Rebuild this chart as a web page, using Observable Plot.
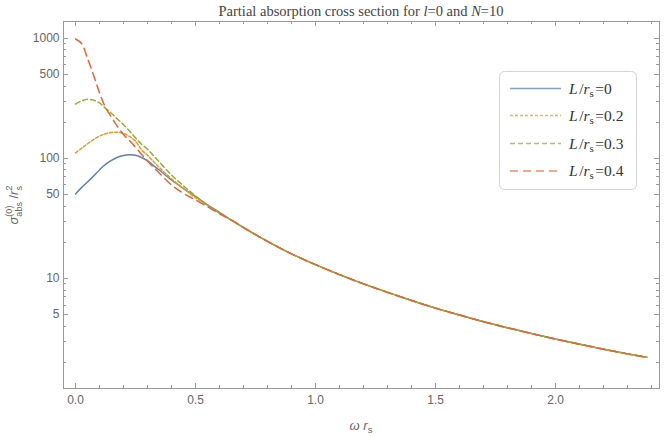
<!DOCTYPE html>
<html><head><meta charset="utf-8">
<script src="https://cdn.jsdelivr.net/npm/d3@7"></script>
<script src="https://cdn.jsdelivr.net/npm/@observablehq/plot@0.6"></script>
<style>body{margin:0;background:#fff}#chart{width:664px;height:436px}</style>
</head><body><div id="chart"></div>
<script>
// ---- data ----
const omegaFront = [0, 0.025, 0.05, 0.075, 0.1, 0.125, 0.15, 0.175, 0.2, 0.225, 0.25, 0.275, 0.3, 0.325, 0.35, 0.4, 0.45, 0.5, 0.55, 0.6];
const sigmaL0   = [50.5, 57, 63.5, 71, 80, 89, 96, 102, 105.5, 107, 106, 101.5, 95, 87, 79.5, 66, 56, 48, 41, 35.5];
const sigmaL02  = [111, 121, 132, 143, 153, 160, 164, 165, 161, 152, 139, 118, 106, 94, 83.5, 67.5, 56, 47, 40.5, 35];
const sigmaL03  = [283, 300, 310, 305, 289, 261, 236, 212, 190, 169, 148, 131, 119, 105, 93, 72.5, 59, 48.5, 40.5, 35];
const sigmaL04  = [985, 905, 680, 495, 352, 265, 220, 184, 158, 140, 124, 108, 95, 84, 75, 60, 51, 45, 39.5, 34.5];
const omegaTail = [0.65, 0.7, 0.8, 0.9, 1.0, 1.1, 1.2, 1.3, 1.4, 1.5, 1.6, 1.7, 1.8, 1.9, 2.0, 2.1, 2.2, 2.3, 2.38];
const sigmaTail = [30.5, 26.5, 20.3, 16.0, 13.0, 10.75, 9.0, 7.65, 6.55, 5.65, 4.95, 4.36, 3.88, 3.47, 3.12, 2.83, 2.57, 2.35, 2.2];

const legendValues = ["0", "0.2", "0.3", "0.4"];
const seriesColors = ["#5E81B5", "#E19C24", "#8FB032", "#EB6235"];
const seriesDashes = [null, "3,2", "5,3", "8,5"];

const xTickLabels = [0, 0.5, 1, 1.5, 2];
const xMinorTicks = [0.1, 0.2, 0.3, 0.4, 0.6, 0.7, 0.8, 0.9, 1.1, 1.2, 1.3, 1.4, 1.6, 1.7, 1.8, 1.9, 2.1, 2.2, 2.3, 2.4];
const yTickLabels = [5, 10, 50, 100, 500, 1000];
const yMinorTicks = [2, 3, 4, 6, 7, 8, 9, 20, 30, 40, 60, 70, 80, 90, 200, 300, 400, 600, 700, 800, 900];

(function () {
// ---- layout ----
const W = 664, H = 436, mL = 63, mR = 5, mT = 21, mB = 48;
const innerW = W - mL - mR, innerH = H - mT - mB;

// ---- build tables ----
const fronts = [sigmaL0, sigmaL02, sigmaL03, sigmaL04];
const series = fronts.map((front) =>
  omegaFront.map((w, i) => ({w, v: front[i]}))
    .concat(omegaTail.map((w, i) => ({w, v: sigmaTail[i]})))
);

const frameColor = "#999";

const plot = Plot.plot({
  width: W, height: H,
  marginLeft: mL, marginRight: mR, marginTop: mT, marginBottom: mB,
  style: {fontFamily: "'Liberation Sans', Arial, sans-serif", fontSize: "12px", background: "#fff", overflow: "visible"},
  x: {domain: [-0.05, 2.433], axis: null},
  y: {type: "log", domain: [1.21, 1378], axis: null},
  marks: [
    ...series.map((d, k) => Plot.line(d, {
      x: "w", y: "v", stroke: seriesColors[k], strokeWidth: 1.5,
      strokeDasharray: seriesDashes[k] || undefined, curve: "catmull-rom"
    })),
    Plot.frame({stroke: frameColor}),
    Plot.text(xTickLabels, {x: d => d, text: d => d.toFixed(1), frameAnchor: "bottom", lineAnchor: "top", dy: 7, fill: "#666", fontSize: 12}),
    Plot.text(yTickLabels, {y: d => d, text: d => String(d), frameAnchor: "left", textAnchor: "end", dx: -4, fill: "#666", fontSize: 12})
  ]
});
document.getElementById("chart").appendChild(plot);

// ---- inward frame ticks, positioned through Plot's own scales ----
const svg = d3.select(plot);
const sx = plot.scale("x"), sy = plot.scale("y");
const xLeft = mL, xRight = W - mR, yTop = mT, yBottom = H - mB;
const tg = svg.append("g").attr("stroke", frameColor).attr("stroke-width", 1).attr("fill", "none");
for (const [vals, len] of [[xTickLabels, 5], [xMinorTicks, 3]]) {
  for (const v of vals) {
    const px = Math.round(sx.apply(v)) + 0.5;
    tg.append("line").attr("x1", px).attr("x2", px).attr("y1", yBottom).attr("y2", yBottom - len);
    tg.append("line").attr("x1", px).attr("x2", px).attr("y1", yTop).attr("y2", yTop + len);
  }
}
for (const [vals, len] of [[yTickLabels, 5], [yMinorTicks, 3]]) {
  for (const v of vals) {
    const py = Math.round(sy.apply(v)) + 0.5;
    tg.append("line").attr("y1", py).attr("y2", py).attr("x1", xLeft).attr("x2", xLeft + len);
    tg.append("line").attr("y1", py).attr("y2", py).attr("x1", xRight).attr("x2", xRight - len);
  }
}

// ---- text decorations ----
const serif = "'Liberation Serif', 'Times New Roman', serif";
const sans = "'Liberation Sans', Arial, sans-serif";

// title
const t = svg.append("text").attr("x", mL + innerW / 2).attr("y", 16).attr("text-anchor", "middle")
  .attr("font-family", serif).attr("font-size", 14.5).attr("fill", "#444");
t.append("tspan").text("Partial absorption cross section for ");
t.append("tspan").attr("font-style", "italic").text("l");
t.append("tspan").text("=0 and ");
t.append("tspan").attr("font-style", "italic").text("N");
t.append("tspan").text("=10");

// x label
const xl = svg.append("text").attr("x", mL + innerW / 2).attr("y", 430).attr("text-anchor", "middle")
  .attr("font-family", sans).attr("font-size", 13).attr("fill", "#666");
xl.append("tspan").attr("font-style", "italic").text("ω r");
xl.append("tspan").attr("font-size", 9.5).attr("dy", 3).text("s");

// y label (rotated)
const yl = svg.append("text").attr("transform", "translate(18,205) rotate(-90)").attr("text-anchor", "middle")
  .attr("font-family", sans).attr("font-size", 13).attr("fill", "#666");
yl.append("tspan").attr("font-style", "italic").text("σ");
yl.append("tspan").attr("font-size", 9).attr("dy", -6).text("(0)");
yl.append("tspan").attr("font-size", 9).attr("dx", -11).attr("dy", 10).text("abs");
yl.append("tspan").attr("dy", -4).text(" /");
yl.append("tspan").attr("font-style", "italic").text("r");
yl.append("tspan").attr("font-size", 9).attr("dy", -6).text("2");
yl.append("tspan").attr("font-size", 9).attr("dx", -5).attr("dy", 10).text("s");

// legend
const lg = svg.append("g");
lg.append("rect").attr("x", 499.5).attr("y", 71.5).attr("width", 137).attr("height", 118).attr("rx", 5)
  .attr("fill", "#fff").attr("stroke", "#d4d4d4");
const rowY = [88.5, 115.5, 143.5, 171];
legendValues.forEach((val, k) => {
  const y = rowY[k];
  lg.append("line").attr("x1", 510).attr("x2", 561).attr("y1", y).attr("y2", y)
    .attr("stroke", seriesColors[k]).attr("stroke-width", 1.5).attr("stroke-opacity", 0.75)
    .attr("stroke-dasharray", seriesDashes[k]);
  const tx = lg.append("text").attr("x", 569).attr("y", y + 5).attr("text-anchor", "start")
    .attr("font-family", serif).attr("font-size", 15.5).attr("fill", "#333");
  tx.append("tspan").attr("font-style", "italic").text("L");
  tx.append("tspan").attr("dx", 1.5).text("/");
  tx.append("tspan").attr("font-style", "italic").text("r");
  tx.append("tspan").attr("font-size", 11).attr("dy", 3).text("s");
  tx.append("tspan").attr("dy", -3).attr("dx", 1.5).text("=" + val);
});
})();
</script>
</body></html>
